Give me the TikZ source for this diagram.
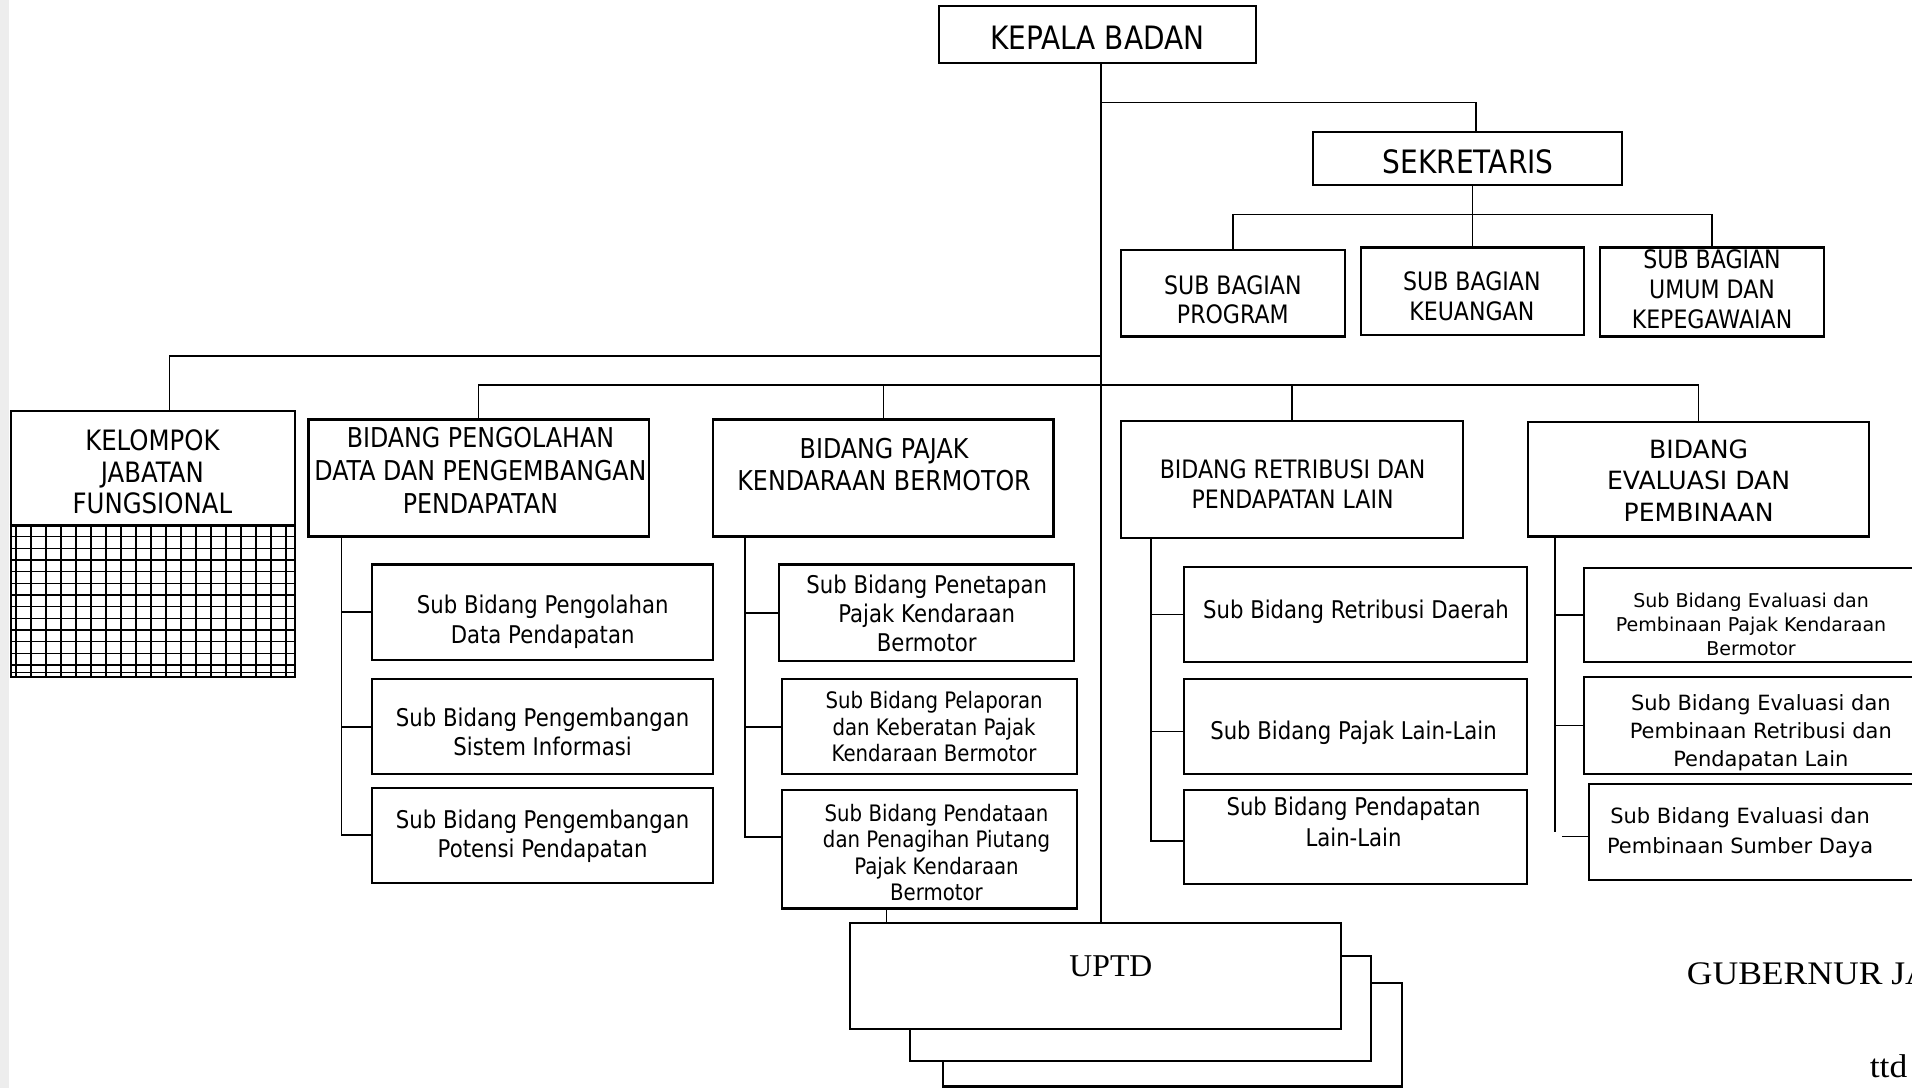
\documentclass[tikz,border=0pt]{standalone}
\usepackage{fontspec}
\setmainfont{DejaVu Sans}
\newfontfamily\tah{DejaVu Sans}[FakeStretch=0.87]
\newfontfamily\verd{DejaVu Sans}
\newfontfamily\ser{Liberation Serif}
\newfontfamily\serw{Liberation Serif}[FakeStretch=1.08]
\usetikzlibrary{fit}
\newcommand\fsz[2]{\fontsize{#1}{#2}\selectfont}
\tikzset{
  bx/.style={draw, line width=0.9pt, inner sep=0pt, fill=white},
  con/.style={line width=0.7pt},
  tx/.style={align=center, inner sep=0pt},
  hd/.style={tx, font=\tah\fsz{11.2}{13.5}},
  sb/.style={tx, font=\tah\fsz{10}{12}},
  ev/.style={tx, font=\verd\fsz{8.6}{11.5}},
}
\begin{document}
\begin{tikzpicture}[x=0.5pt, y=-0.5pt]
\useasboundingbox (0,0) rectangle (1568,892);
\clip (0,0) rectangle (1568,892);
\fill[white] (0,0) rectangle (1568,892);
\fill[black!7] (0,0) rectangle (7,892);

% ---------- boxes ----------
\node[bx, fit={(770,5) (1030,52)}] (kep) {};
\node[bx, fit={(1077,108) (1330,152)}] (sek) {};
\node[bx, fit={(919,205) (1103,276)}] (prog) {};
\node[bx, fit={(1116,203) (1299,275)}] (keu) {};
\node[bx, fit={(1312,203) (1496,276)}] (umum) {};

\node[bx, fit={(9,337) (242,555)}] (kel) {};
\node[bx, fit={(253,344) (532,440)}] (bpo) {};
\node[bx, fit={(585,344) (864,440)}] (bpa) {};
\node[bx, fit={(919,345) (1200,441)}] (bre) {};
\node[bx, fit={(1253,346) (1533,440)}] (bev) {};

\node[bx, fit={(305,463) (585,541)}] (s11) {};
\node[bx, fit={(305,557) (585,635)}] (s12) {};
\node[bx, fit={(305,646) (585,724)}] (s13) {};

\node[bx, fit={(639,463) (881,542)}] (s21) {};
\node[bx, fit={(641,557) (883,635)}] (s22) {};
\node[bx, fit={(641,648) (883,745)}] (s23) {};

\node[bx, fit={(971,465) (1252,543)}] (s31) {};
\node[bx, fit={(971,557) (1252,635)}] (s32) {};
\node[bx, fit={(971,648) (1252,725)}] (s33) {};

\node[bx, fit={(1299,466) (1600,543)}] (e1) {};
\node[bx, fit={(1299,555) (1600,635)}] (e2) {};
\node[bx, fit={(1303,643) (1600,722)}] (e3) {};

% UPTD stack
\node[bx, fit={(773,806) (1150,891)}] (up3) {};
\node[bx, fit={(746,784) (1124,870)}] (up2) {};
\node[bx, fit={(697,757) (1100,844)}] (up1) {};

% grid in KELOMPOK
\draw[line width=0.9pt] (kel.west |- 0,431) -- (kel.east |- 0,431);
\foreach \k in {0,...,18} {
  \draw[line width=0.6pt] ({13.2+12.3*\k},431) -- ({13.2+12.3*\k},555);
}
\foreach \k in {1,...,12} {
  \draw[line width=0.6pt] (9,{430.6+9.57*\k}) -- (242,{430.6+9.57*\k});
}
\draw[line width=0.6pt] (9,551.5) -- (242,551.5);

% ---------- connectors ----------
\coordinate (tr) at (903,0);
\coordinate (j1) at (903,84);
\coordinate (j2) at (1209,176);
\coordinate (j3) at (903,292);
\coordinate (j4) at (903,316);

\draw[con] (kep.south -| tr) -- (up1.north -| tr);
\draw[con] (j1) -| ([xshift=3.5pt]sek.north);
\draw[con] (sek.south -| keu.north) -- (keu.north);
\draw[con] (prog.north) |- (j2) -| (umum.north);
\draw[con] (j3) -| ([xshift=6.75pt]kel.north);
\draw[con] (bpo.north) |- (j4) -| (bev.north);
\draw[con] (bpa.north) -- (bpa.north |- j4);
\draw[con] (bre.north) -- (bre.north |- j4);

% column 1
\coordinate (c1) at (280,440);
\draw[con] (c1) |- (s13.west);
\draw[con] (c1 |- s11.west) -- (s11.west);
\draw[con] (c1 |- s12.west) -- (s12.west);
% column 2
\coordinate (c2) at (611,440);
\draw[con] (c2) |- ([yshift=5pt]s23.west);
\draw[con] (c2 |- s21.west) -- (s21.west);
\draw[con] (c2 |- s22.west) -- (s22.west);
\coordinate (p23) at ([xshift=43.5pt]s23.south west);
\draw[con] (p23) -- (p23 |- up1.north);
% column 3
\coordinate (c3) at (944,441);
\coordinate (p32) at ([yshift=-2pt]s32.west);
\draw[con] (c3) |- ([yshift=-1.5pt]s33.west);
\draw[con] (c3 |- s31.west) -- (s31.west);
\draw[con] (c3 |- p32) -- (p32);
% column 4
\coordinate (c4) at (1275,440);
\coordinate (c4e) at (1275,682);
\coordinate (c4t) at (1281,686);
\draw[con] (c4) -- (c4e);
\draw[con] (c4 |- e1.west) -- (e1.west);
\draw[con] (c4 |- e2.west) -- (e2.west);
\draw[con] (c4t) -- (c4t -| e3.west);

% ---------- texts ----------
\node[tx, font=\tah\fsz{13.2}{15}] (t-kep) at (900,31) {KEPALA BADAN};
\node[tx, font=\tah\fsz{13.2}{15}] (t-sek) at (1204,133) {SEKRETARIS};
\node[tx, font=\tah\fsz{10.4}{12}] (t-prog) at (1011,246) {SUB BAGIAN\\PROGRAM};
\node[tx, font=\tah\fsz{10.4}{12}] (t-keu) at (1207,243) {SUB BAGIAN\\KEUANGAN};
\node[tx, font=\tah\fsz{10.4}{12.25}] (t-umum) at (1404,237) {SUB BAGIAN\\UMUM DAN\\KEPEGAWAIAN};

\node[tx, font=\tah\fsz{11.5}{13}] (t-kel) at (125,387) {KELOMPOK\\JABATAN\\FUNGSIONAL};
\node[hd] (t-bpo) at (394,386) {BIDANG PENGOLAHAN\\DATA DAN PENGEMBANGAN\\PENDAPATAN};
\node[hd] (t-bpa) at (725,381) {BIDANG PAJAK\\KENDARAAN BERMOTOR};
\node[tx, font=\tah\fsz{10.4}{12.5}] (t-bre) at (1060,397) {BIDANG RETRIBUSI DAN\\PENDAPATAN LAIN};
\node[tx, font=\verd\fsz{10.3}{13}] (t-bev) at (1393,394) {BIDANG\\EVALUASI DAN\\PEMBINAAN};

\node[sb] (t-s11) at (445,510) {Sub Bidang Pengolahan\\Data Pendapatan};
\node[sb] (t-s12) at (445,600) {Sub Bidang Pengembangan\\Sistem Informasi};
\node[sb] (t-s13) at (445,686) {Sub Bidang Pengembangan\\Potensi Pendapatan};

\node[tx, font=\tah\fsz{10}{11.75}] (t-s21) at (760,503) {Sub Bidang Penetapan\\Pajak Kendaraan\\Bermotor};
\node[tx, font=\tah\fsz{9.3}{10.8}] (t-s22) at (766,596) {Sub Bidang Pelaporan\\dan Keberatan Pajak\\Kendaraan Bermotor};
\node[tx, font=\tah\fsz{9.3}{10.85}] (t-s23) at (768,699) {Sub Bidang Pendataan\\dan Penagihan Piutang\\Pajak Kendaraan\\Bermotor};

\node[sb] (t-s31) at (1112,502) {Sub Bidang Retribusi Daerah};
\node[sb] (t-s32) at (1110,601) {Sub Bidang Pajak Lain-Lain};
\node[tx, font=\tah\fsz{10}{12.5}] (t-s33) at (1110,674) {Sub Bidang Pendapatan\\Lain-Lain};

\node[tx, font=\verd\fsz{7.8}{10}] (t-e1) at (1436,512) {Sub Bidang Evaluasi dan\\Pembinaan Pajak Kendaraan\\Bermotor};
\node[ev] (t-e2) at (1444,601) {Sub Bidang Evaluasi dan\\Pembinaan Retribusi dan\\Pendapatan Lain};
\node[tx, font=\verd\fsz{8.6}{12}] (t-e3) at (1427,683) {Sub Bidang Evaluasi dan\\Pembinaan Sumber Daya};

\node[tx, font=\ser\fsz{13}{15}, anchor=base] (t-up) at (911,801) {UPTD};
\node[tx, font=\serw\fsz{13.5}{16}, anchor=base west] (t-gub) at (1383,807) {GUBERNUR JA};
\node[tx, font=\serw\fsz{13.5}{16}, anchor=base west] (t-ttd) at (1533,884) {ttd};
\end{tikzpicture}
\end{document}
